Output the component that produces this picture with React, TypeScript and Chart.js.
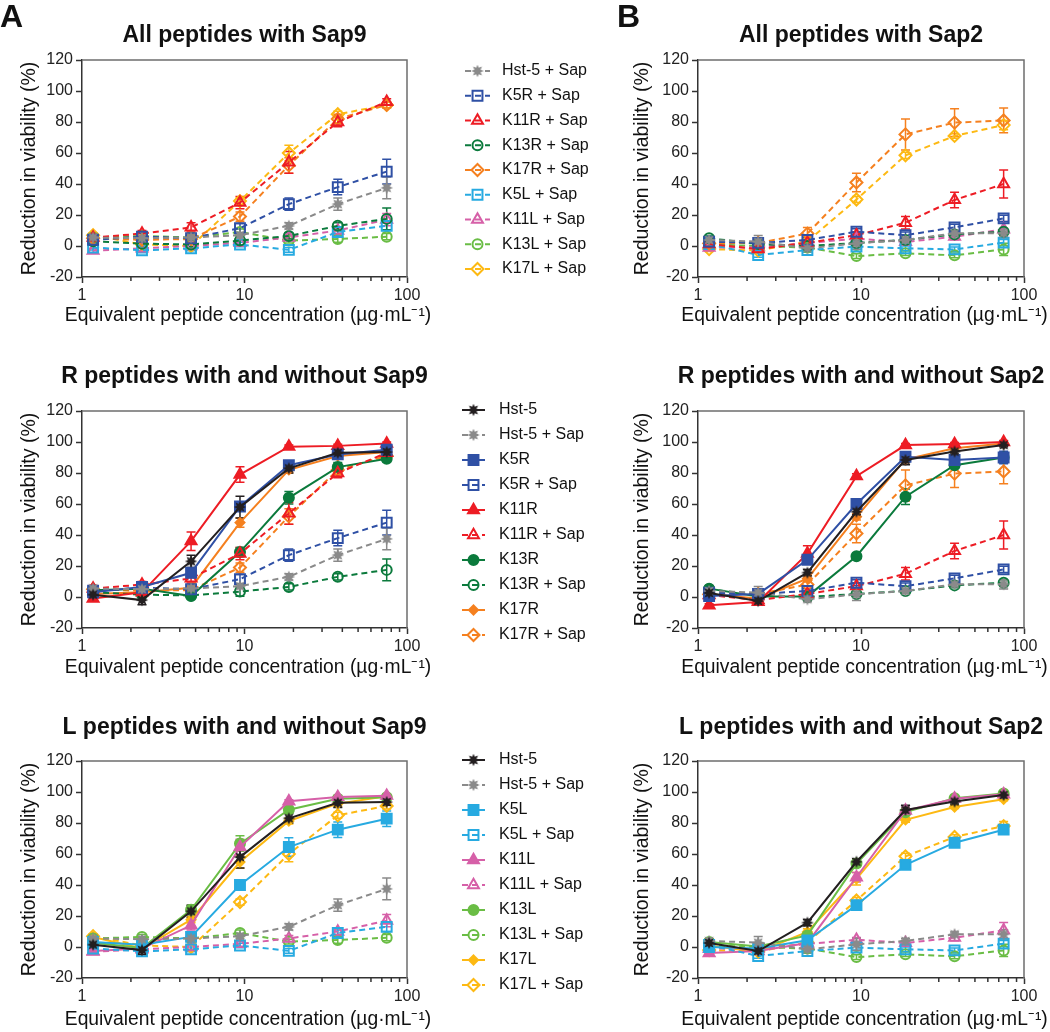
import React, { useEffect, useRef } from 'react';
import { Chart, registerables, PointElement } from 'chart.js';

Chart.register(...registerables);

const FONT = "'Liberation Sans', Arial, Helvetica, sans-serif";

// ---------- data ----------
const conc = [1.17, 2.34, 4.69, 9.38, 18.75, 37.5, 75];
const xTickValues = [1, 10, 100];
const yMin = -20;
const yMax = 120;
const yStep = 20;

const xTitle = 'Equivalent peptide concentration (µg·mL⁻¹)';
const yTitle = 'Reduction in viability (%)';

// Sap9 – peptide alone
const hst5_9 = [1.5, -2, 23, 58, 83, 93, 93.5];
const hst5_9Err = [2, 3, 4, 7, 3, 3, 2];
const k5r_9 = [3, 6.5, 15.6, 58.4, 85, 92, 95];
const k5r_9Err = [2, 2, 3, 3, 2, 2, 1.5];
const k11r_9 = [-1, 3, 36, 79, 97, 97.5, 99];
const k11r_9Err = [1.5, 1.5, 6, 5, 1, 1, 1];
const k13r_9 = [4.3, 5.4, 0.6, 29, 64, 83.8, 89.2];
const k13r_9Err = [1.5, 1.5, 1.5, 3, 4, 3, 2];
const k17r_9 = [2, 3, 6, 48, 82, 91, 93.5];
const k17r_9Err = [1.5, 1.5, 1.5, 3, 2, 2, 1.5];
const k5l_9 = [3.2, 1.5, 6.5, 40, 64.5, 75.7, 82.8];
const k5l_9Err = [1.5, 1.5, 1.5, 3, 6, 5, 5];
const k11l_9 = [-2.6, -1, 14, 64.5, 94, 96.8, 97.6];
const k11l_9Err = [1.5, 1.5, 3, 5, 1, 1, 1];
const k13l_9 = [2.8, -0.6, 24, 66.7, 88.6, 95.7, 96.6];
const k13l_9Err = [1.5, 1.5, 3, 5, 1.5, 1, 1];
const k17l_9 = [6.5, -1, 17.6, 54.8, 81.3, 92.5, 97.2];
const k17l_9Err = [1.5, 1.5, 2, 4, 2, 1.5, 1];

// Sap9 – peptide + Sap
const hst5Sap_9 = [5.5, 5, 5.5, 7, 13, 27, 37.5];
const hst5Sap_9Err = [1.5, 1.5, 1.5, 1.5, 2, 4, 7];
const k5rSap_9 = [4, 6, 5, 11.5, 27, 38, 48];
const k5rSap_9Err = [2, 2, 2, 3, 4, 5, 8];
const k11rSap_9 = [5.5, 8, 12, 28, 54, 80, 93];
const k11rSap_9Err = [2, 2, 3, 4, 7, 3, 2];
const k13rSap_9 = [3, 1.5, 1, 3.5, 6.5, 13, 17.5];
const k13rSap_9Err = [2, 1.5, 1.5, 3, 2, 2, 7];
const k17rSap_9 = [5, 4, 4.5, 19, 52, 82, 91];
const k17rSap_9Err = [1.5, 1.5, 1.5, 3, 5, 3, 2];
const k5lSap_9 = [-1, -2.8, -1.5, 1, -2.5, 9, 13];
const k5lSap_9Err = [1.5, 1.5, 1.5, 1.5, 1.5, 2, 3];
const k11lSap_9 = [-3, -1.5, 0, 2, 5.5, 10, 17];
const k11lSap_9Err = [1.5, 1.5, 1.5, 1.5, 2, 2, 4];
const k13lSap_9 = [5.5, 6.5, 5.5, 9, 3.5, 4.5, 6];
const k13lSap_9Err = [1.5, 1.5, 1.5, 2, 1.5, 2, 2];
const k17lSap_9 = [7, 1, 0, 29, 60, 85, 91];
const k17lSap_9Err = [1.5, 1.5, 1.5, 2, 5, 2, 2];

// Sap2 – peptide alone
const hst5_2 = [2.6, -2.6, 15.7, 55, 88.4, 93.8, 98];
const hst5_2Err = [2, 2, 2, 2, 3, 1.5, 1];
const k5r_2 = [0.6, 2, 24, 60, 90.5, 88.4, 90];
const k5r_2Err = [1.5, 1.5, 2, 2, 2, 2, 4];
const k11r_2 = [-5.4, -3.2, 28, 78, 98, 98.7, 100];
const k11r_2Err = [1, 1, 5, 1.5, 1, 1, 1];
const k13r_2 = [5.4, 0.4, 0.4, 26.3, 64.7, 85, 90];
const k13r_2Err = [1.5, 1.5, 1.5, 2, 5, 2, 2];
const k17r_2 = [1.7, -1, 11.8, 51.7, 88.8, 96, 99];
const k17r_2Err = [1.5, 1.5, 2, 2, 2, 1, 1];
const k5l_2 = [0, -1, 4.3, 27, 53, 67.3, 75.7];
const k5l_2Err = [1.5, 1.5, 1.5, 3, 2, 1.5, 1.5];
const k11l_2 = [-3.9, -2.6, 2.6, 45, 88, 95.7, 98.5];
const k11l_2Err = [1.5, 1.5, 1.5, 3, 2, 1, 1];
const k13l_2 = [3.2, 0.4, 7.5, 53.8, 87, 96, 99];
const k13l_2Err = [1.5, 1.5, 1.5, 2, 2, 1, 1];
const k17l_2 = [1, -3.2, 9.7, 44, 82, 90.3, 95.3];
const k17l_2Err = [1.5, 1.5, 2, 4, 1.5, 1, 1];

// Sap2 – peptide + Sap
const hst5Sap_2 = [3.9, 2.8, -1.5, 1.7, 3.9, 8.2, 8.2];
const hst5Sap_2Err = [1.5, 4, 1.5, 4, 1.5, 1.5, 3];
const k5rSap_2 = [2.8, 2, 3.9, 9.2, 7, 12, 17.8];
const k5rSap_2Err = [1.5, 1.5, 1.5, 2, 2, 2, 2];
const k11rSap_2 = [1.3, -2, 2, 7, 15, 29.7, 40];
const k11rSap_2Err = [1.5, 1.5, 1.5, 2, 4, 5, 9];
const k13rSap_2 = [5, 1.3, 0, 2, 3.9, 7.5, 9.2];
const k13rSap_2Err = [1.5, 1.5, 1.5, 1.5, 1.5, 1.5, 2];
const k17rSap_2 = [1.7, 2, 8, 41, 72, 79.6, 81];
const k17rSap_2Err = [1.5, 1.5, 4, 6, 10, 9, 8];
const k5lSap_2 = [1.3, -5.8, -2.6, -0.4, -1.5, -2.2, 2.2];
const k5lSap_2Err = [1.5, 1.5, 1.5, 1.5, 1.5, 1.5, 2];
const k11lSap_2 = [-1, -1, 2, 4.7, 2.6, 6, 10.8];
const k11lSap_2Err = [1.5, 1.5, 1.5, 1.5, 1.5, 2, 5];
const k13lSap_2 = [1, 0, -1, -6.5, -4.7, -6, -2.2];
const k13lSap_2Err = [1.5, 1.5, 1.5, 1.5, 1.5, 1.5, 4];
const k17lSap_2 = [-2, -3, 3, 30, 58.5, 71, 78];
const k17lSap_2Err = [1.5, 1.5, 1.5, 2, 2, 1.5, 3];

// ---------- styles ----------
const C = {
  hst5: '#231f20',
  hst5Sap: '#8a8a8a',
  k5r: '#2f50a5',
  k11r: '#ed1c24',
  k13r: '#0b7a3c',
  k17r: '#f5801f',
  k5l: '#27aae1',
  k11l: '#d660a8',
  k13l: '#6abd45',
  k17l: '#fdb913',
};

const starCache: Record<string, HTMLCanvasElement> = {};
function starImage(color: string) {
  if (starCache[color]) return starCache[color];
  const c = document.createElement('canvas');
  c.width = 14;
  c.height = 14;
  const g = c.getContext('2d')!;
  g.beginPath();
  const n = 8;
  for (let k = 0; k < 2 * n; k++) {
    const ang = -Math.PI / 2 + (k * Math.PI) / n;
    const r = k % 2 === 0 ? 6.3 : 3.4;
    const px = 7 + r * Math.cos(ang);
    const py = 7 + r * Math.sin(ang);
    if (k === 0) g.moveTo(px, py);
    else g.lineTo(px, py);
  }
  g.closePath();
  g.fillStyle = color;
  g.fill();
  starCache[color] = c;
  return c;
}

type Shape = 'star' | 'rect' | 'triangle' | 'circle' | 'rectRot';
type Series = { label: string; values: number[]; errors: number[]; color: string; shape: Shape; filled: boolean };

function S(label: string, values: number[], errors: number[], color: string, shape: Shape, filled: boolean): Series {
  return { label, values, errors, color, shape, filled };
}

function radiusFor(shape: Shape, filled: boolean) {
  if (shape === 'rect') return 7;
  if (shape === 'triangle') return 6.3;
  if (shape === 'circle') return 5;
  if (shape === 'rectRot') return filled ? 4.5 : 6;
  return 6;
}

function makeDataset(s: Series) {
  const style = s.shape === 'star' ? starImage(s.color) : s.shape;
  const bg = s.filled ? s.color : 'rgba(255,255,255,0)';
  return {
    label: s.label,
    data: conc.map((x, i) => ({ x, y: s.values[i] })),
    errors: s.errors,
    borderColor: s.color,
    backgroundColor: bg,
    borderWidth: 2,
    borderDash: s.filled ? [] : [6, 4],
    pointStyle: style,
    pointRadius: radiusFor(s.shape, s.filled),
    pointBorderWidth: 2,
    pointBackgroundColor: bg,
    pointBorderColor: s.color,
    tension: 0,
    fill: false,
  };
}

// series lists
const sap9All = [
  S('Hst-5 + Sap', hst5Sap_9, hst5Sap_9Err, C.hst5Sap, 'star', false),
  S('K5R + Sap', k5rSap_9, k5rSap_9Err, C.k5r, 'rect', false),
  S('K11R + Sap', k11rSap_9, k11rSap_9Err, C.k11r, 'triangle', false),
  S('K13R + Sap', k13rSap_9, k13rSap_9Err, C.k13r, 'circle', false),
  S('K17R + Sap', k17rSap_9, k17rSap_9Err, C.k17r, 'rectRot', false),
  S('K5L + Sap', k5lSap_9, k5lSap_9Err, C.k5l, 'rect', false),
  S('K11L + Sap', k11lSap_9, k11lSap_9Err, C.k11l, 'triangle', false),
  S('K13L + Sap', k13lSap_9, k13lSap_9Err, C.k13l, 'circle', false),
  S('K17L + Sap', k17lSap_9, k17lSap_9Err, C.k17l, 'rectRot', false),
];
const sap2All = [
  S('Hst-5 + Sap', hst5Sap_2, hst5Sap_2Err, C.hst5Sap, 'star', false),
  S('K5R + Sap', k5rSap_2, k5rSap_2Err, C.k5r, 'rect', false),
  S('K11R + Sap', k11rSap_2, k11rSap_2Err, C.k11r, 'triangle', false),
  S('K13R + Sap', k13rSap_2, k13rSap_2Err, C.k13r, 'circle', false),
  S('K17R + Sap', k17rSap_2, k17rSap_2Err, C.k17r, 'rectRot', false),
  S('K5L + Sap', k5lSap_2, k5lSap_2Err, C.k5l, 'rect', false),
  S('K11L + Sap', k11lSap_2, k11lSap_2Err, C.k11l, 'triangle', false),
  S('K13L + Sap', k13lSap_2, k13lSap_2Err, C.k13l, 'circle', false),
  S('K17L + Sap', k17lSap_2, k17lSap_2Err, C.k17l, 'rectRot', false),
];
const sap9R = [
  S('Hst-5', hst5_9, hst5_9Err, C.hst5, 'star', true),
  S('Hst-5 + Sap', hst5Sap_9, hst5Sap_9Err, C.hst5Sap, 'star', false),
  S('K5R', k5r_9, k5r_9Err, C.k5r, 'rect', true),
  S('K5R + Sap', k5rSap_9, k5rSap_9Err, C.k5r, 'rect', false),
  S('K11R', k11r_9, k11r_9Err, C.k11r, 'triangle', true),
  S('K11R + Sap', k11rSap_9, k11rSap_9Err, C.k11r, 'triangle', false),
  S('K13R', k13r_9, k13r_9Err, C.k13r, 'circle', true),
  S('K13R + Sap', k13rSap_9, k13rSap_9Err, C.k13r, 'circle', false),
  S('K17R', k17r_9, k17r_9Err, C.k17r, 'rectRot', true),
  S('K17R + Sap', k17rSap_9, k17rSap_9Err, C.k17r, 'rectRot', false),
];
const sap2R = [
  S('Hst-5', hst5_2, hst5_2Err, C.hst5, 'star', true),
  S('Hst-5 + Sap', hst5Sap_2, hst5Sap_2Err, C.hst5Sap, 'star', false),
  S('K5R', k5r_2, k5r_2Err, C.k5r, 'rect', true),
  S('K5R + Sap', k5rSap_2, k5rSap_2Err, C.k5r, 'rect', false),
  S('K11R', k11r_2, k11r_2Err, C.k11r, 'triangle', true),
  S('K11R + Sap', k11rSap_2, k11rSap_2Err, C.k11r, 'triangle', false),
  S('K13R', k13r_2, k13r_2Err, C.k13r, 'circle', true),
  S('K13R + Sap', k13rSap_2, k13rSap_2Err, C.k13r, 'circle', false),
  S('K17R', k17r_2, k17r_2Err, C.k17r, 'rectRot', true),
  S('K17R + Sap', k17rSap_2, k17rSap_2Err, C.k17r, 'rectRot', false),
];
const sap9L = [
  S('Hst-5', hst5_9, hst5_9Err, C.hst5, 'star', true),
  S('Hst-5 + Sap', hst5Sap_9, hst5Sap_9Err, C.hst5Sap, 'star', false),
  S('K5L', k5l_9, k5l_9Err, C.k5l, 'rect', true),
  S('K5L + Sap', k5lSap_9, k5lSap_9Err, C.k5l, 'rect', false),
  S('K11L', k11l_9, k11l_9Err, C.k11l, 'triangle', true),
  S('K11L + Sap', k11lSap_9, k11lSap_9Err, C.k11l, 'triangle', false),
  S('K13L', k13l_9, k13l_9Err, C.k13l, 'circle', true),
  S('K13L + Sap', k13lSap_9, k13lSap_9Err, C.k13l, 'circle', false),
  S('K17L', k17l_9, k17l_9Err, C.k17l, 'rectRot', true),
  S('K17L + Sap', k17lSap_9, k17lSap_9Err, C.k17l, 'rectRot', false),
];
const sap2L = [
  S('Hst-5', hst5_2, hst5_2Err, C.hst5, 'star', true),
  S('Hst-5 + Sap', hst5Sap_2, hst5Sap_2Err, C.hst5Sap, 'star', false),
  S('K5L', k5l_2, k5l_2Err, C.k5l, 'rect', true),
  S('K5L + Sap', k5lSap_2, k5lSap_2Err, C.k5l, 'rect', false),
  S('K11L', k11l_2, k11l_2Err, C.k11l, 'triangle', true),
  S('K11L + Sap', k11lSap_2, k11lSap_2Err, C.k11l, 'triangle', false),
  S('K13L', k13l_2, k13l_2Err, C.k13l, 'circle', true),
  S('K13L + Sap', k13lSap_2, k13lSap_2Err, C.k13l, 'circle', false),
  S('K17L', k17l_2, k17l_2Err, C.k17l, 'rectRot', true),
  S('K17L + Sap', k17lSap_2, k17lSap_2Err, C.k17l, 'rectRot', false),
];

// ---------- layout ----------
const ROWS = [
  { top: 0, height: 340, padT: 60, padB: 11, xH: 52, titleY: 36, xTitleDy: 39 },
  { top: 330, height: 351, padT: 81, padB: 0, xH: 53, titleY: 47, xTitleDy: 40 },
  { top: 680, height: 352, padT: 81, padB: 0, xH: 54, titleY: 48, xTitleDy: 42 },
];
const COLS = [
  { left: 0, width: 610, yW: 82, yTP: 18.3, padR: 203 },
  { left: 610, width: 440, yW: 88, yTP: 21.3, padR: 26 },
];

type Legend = { y0: number; step: number; lx1: number; lx2: number; tx: number };

type PanelCfg = {
  row: number;
  col: number;
  title: string;
  series: Series[];
  letter?: { text: string; x: number; y: number };
  legend?: Legend;
};

const PANELS: PanelCfg[] = [
  { row: 0, col: 0, title: 'All peptides with Sap9', series: sap9All, letter: { text: 'A', x: 0, y: 27 },
    legend: { y0: 71, step: 24.75, lx1: 465, lx2: 490, tx: 502 } },
  { row: 0, col: 1, title: 'All peptides with Sap2', series: sap2All, letter: { text: 'B', x: 7, y: 27 } },
  { row: 1, col: 0, title: 'R peptides with and without Sap9', series: sap9R,
    legend: { y0: 80, step: 25, lx1: 462, lx2: 485, tx: 499 } },
  { row: 1, col: 1, title: 'R peptides with and without Sap2', series: sap2R },
  { row: 2, col: 0, title: 'L peptides with and without Sap9', series: sap9L,
    legend: { y0: 80, step: 25, lx1: 462, lx2: 485, tx: 499 } },
  { row: 2, col: 1, title: 'L peptides with and without Sap2', series: sap2L },
];

const minorTicks = [2, 3, 4, 5, 6, 7, 8, 9, 20, 30, 40, 50, 60, 70, 80, 90];

function makeDeco(cfg: PanelCfg) {
  return {
    id: 'deco',
    beforeDatasetsDraw(chart: any) {
      const ctx = chart.ctx;
      const xs = chart.scales.x;
      const ys = chart.scales.y;
      const dsets = chart.data.datasets;
      for (let j = dsets.length - 1; j >= 0; j--) {
        const d = dsets[j];
        if (!d.errors) continue;
        ctx.save();
        ctx.strokeStyle = d.borderColor;
        ctx.lineWidth = 1.5;
        ctx.setLineDash([]);
        d.data.forEach((p: any, i: number) => {
          const e = d.errors[i];
          if (!e) return;
          const px = xs.getPixelForValue(p.x);
          const y1 = ys.getPixelForValue(p.y + e);
          const y2 = ys.getPixelForValue(p.y - e);
          ctx.beginPath();
          ctx.moveTo(px, y1);
          ctx.lineTo(px, y2);
          ctx.moveTo(px - 4.5, y1);
          ctx.lineTo(px + 4.5, y1);
          ctx.moveTo(px - 4.5, y2);
          ctx.lineTo(px + 4.5, y2);
          ctx.stroke();
        });
        ctx.restore();
      }
    },
    afterDraw(chart: any) {
      const ctx = chart.ctx;
      const a = chart.chartArea;
      const xs = chart.scales.x;
      const row = ROWS[cfg.row];
      ctx.save();
      // frame (top + right)
      ctx.strokeStyle = '#6e6e6e';
      ctx.lineWidth = 1.5;
      ctx.setLineDash([]);
      ctx.beginPath();
      ctx.moveTo(a.left, a.top);
      ctx.lineTo(a.right, a.top);
      ctx.lineTo(a.right, a.bottom);
      ctx.stroke();
      // minor x ticks
      ctx.strokeStyle = '#333';
      ctx.beginPath();
      minorTicks.forEach((v) => {
        const px = xs.getPixelForValue(v);
        ctx.moveTo(px, a.bottom);
        ctx.lineTo(px, a.bottom + 4);
      });
      ctx.stroke();
      const cx = (a.left + a.right) / 2;
      // x axis title (drawn at natural width, wider than the plot)
      ctx.fillStyle = '#111';
      ctx.font = `19.3px ${FONT}`;
      ctx.textAlign = 'center';
      ctx.textBaseline = 'middle';
      ctx.fillText(xTitle, cx + 3.5, a.bottom + row.xTitleDy);
      // panel title
      ctx.font = `bold 23px ${FONT}`;
      ctx.fillText(cfg.title, cx, row.titleY);
      // panel letter
      if (cfg.letter) {
        ctx.font = `bold 32px ${FONT}`;
        ctx.textAlign = 'left';
        ctx.textBaseline = 'alphabetic';
        ctx.fillText(cfg.letter.text, cfg.letter.x, cfg.letter.y);
      }
      // legend
      if (cfg.legend) {
        const L = cfg.legend;
        const area = { left: -1e4, top: -1e4, right: 1e4, bottom: 1e4 };
        chart.data.datasets.forEach((d: any, i: number) => {
          const y = L.y0 + i * L.step;
          ctx.save();
          ctx.strokeStyle = d.borderColor;
          ctx.lineWidth = 2;
          ctx.setLineDash(d.borderDash || []);
          ctx.beginPath();
          ctx.moveTo(L.lx1, y);
          ctx.lineTo(L.lx2, y);
          ctx.stroke();
          ctx.setLineDash([]);
          const pe: any = new PointElement({});
          pe.x = (L.lx1 + L.lx2) / 2;
          pe.y = y;
          pe.options = {
            pointStyle: d.pointStyle,
            radius: d.pointRadius,
            rotation: 0,
            borderWidth: d.pointBorderWidth,
            backgroundColor: d.pointBackgroundColor,
            borderColor: d.pointBorderColor,
            hitRadius: 0,
            hoverRadius: 0,
          };
          pe.draw(ctx, area);
          ctx.restore();
          ctx.fillStyle = '#111';
          ctx.font = `16px ${FONT}`;
          ctx.textAlign = 'left';
          ctx.textBaseline = 'middle';
          ctx.fillText(d.label, L.tx, y);
        });
      }
      ctx.restore();
    },
  };
}

function Panel({ cfg }: { cfg: PanelCfg }) {
  const ref = useRef<HTMLCanvasElement | null>(null);
  const row = ROWS[cfg.row];
  const col = COLS[cfg.col];
  useEffect(() => {
    if (!ref.current) return;
    const tickFont = { size: 16, family: FONT };
    const grid = { display: true, drawOnChartArea: false, drawTicks: true, tickLength: 6, tickColor: '#333', tickWidth: 1.5 };
    const border = { display: true, color: '#333', width: 1.5 };
    const chart = new Chart(ref.current, {
      type: 'line',
      data: { datasets: cfg.series.map(makeDataset) as any },
      options: {
        responsive: false,
        animation: false,
        events: [],
        layout: { padding: { left: 0, right: col.padR, top: row.padT, bottom: row.padB } },
        plugins: { legend: { display: false }, tooltip: { enabled: false }, title: { display: false } },
        scales: {
          x: {
            type: 'logarithmic',
            min: 1,
            max: 100,
            afterBuildTicks: (s: any) => {
              s.ticks = xTickValues.map((v) => ({ value: v }));
            },
            afterFit: (s: any) => {
              s.height = row.xH;
            },
            ticks: {
              callback: (v: any) => String(v),
              font: tickFont,
              color: '#222',
              padding: 3,
              autoSkip: false,
              maxRotation: 0,
            },
            grid,
            border,
            title: { display: false },
          },
          y: {
            type: 'linear',
            min: yMin,
            max: yMax,
            afterFit: (s: any) => {
              s.width = col.yW;
            },
            ticks: { stepSize: yStep, font: tickFont, color: '#222', padding: 3 },
            grid,
            border,
            title: { display: true, text: yTitle, font: { size: 19.5, family: FONT }, color: '#111', padding: { top: col.yTP, bottom: 0 } },
          },
        },
      } as any,
      plugins: [makeDeco(cfg) as any],
    });
    return () => chart.destroy();
  }, [cfg]);
  return (
    <canvas
      ref={ref}
      width={col.width}
      height={row.height}
      style={{ position: 'absolute', left: col.left, top: row.top, width: col.width, height: row.height }}
    />
  );
}

export default function App() {
  return (
    <div style={{ position: 'absolute', left: 0, top: 0, width: 1050, height: 1032, background: '#fff' }}>
      {PANELS.map((p, i) => (
        <Panel key={i} cfg={p} />
      ))}
    </div>
  );
}
